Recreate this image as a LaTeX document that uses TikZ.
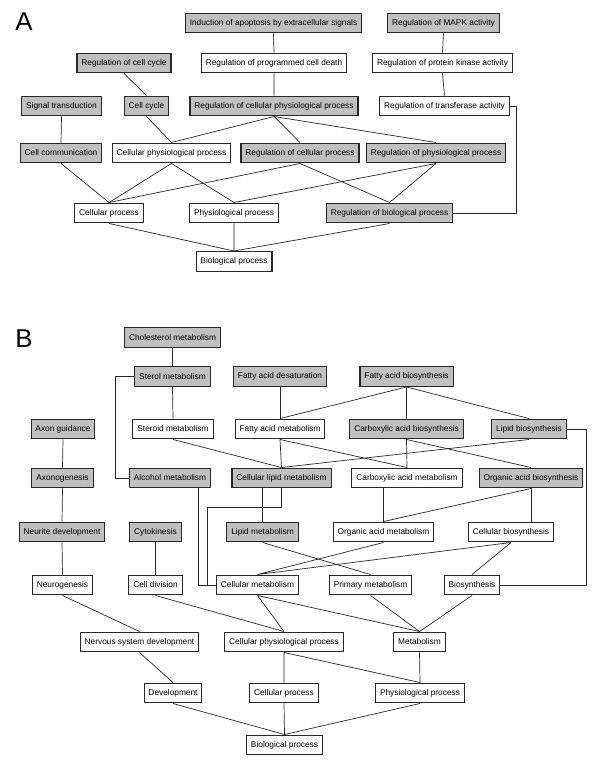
\documentclass[tikz,border=0pt]{standalone}
\usepackage{fontspec}
\setmainfont{Liberation Sans}
\usepackage{xcolor}
\definecolor{gray3}{RGB}{192,192,192}
\definecolor{line3}{RGB}{40,40,40}
\usepackage{tikz}
\usetikzlibrary{calc}

\begin{document}
\begin{tikzpicture}[x=0.03cm, y=-0.03cm,
    term/.style={draw=line3, line width=0.9pt, fill=white,
        minimum height=17pt, inner xsep=3.8pt, inner ysep=0pt,
        font=\fontsize{7.1}{8}\selectfont},
    hit/.style={term, fill=gray3},
    link/.style={line3, line width=0.6pt},
    panel/.style={font=\fontsize{22}{24}\selectfont}]

\useasboundingbox (0,0) rectangle (600,763);

% Panel labels
\node[panel] (labA) at (24,22) {A};
\node[panel] (labB) at (24,339) {B};

% ---------- Panel A: terms ----------
\node[hit]  (apopt)  at (273.5,23)  {Induction of apoptosis by extracellular signals};
\node[hit]  (mapk)   at (443.5,23)  {Regulation of MAPK activity};
\node[hit]  (regcyc) at (124,63)    {Regulation of cell cycle};
\node[term] (regpcd) at (274,63)    {Regulation of programmed cell death};
\node[term] (regpk)  at (442.5,63)  {Regulation of protein kinase activity};
\node[hit]  (sigtr)  at (61.5,106)  {Signal transduction};
\node[hit]  (cyc)    at (146.5,106) {Cell cycle};
\node[hit]  (regcpp) at (274,106)   {Regulation of cellular physiological process};
\node[term] (regtr)  at (444.5,106) {Regulation of transferase activity};
\node[hit]  (comm)   at (61,153)    {Cell communication};
\node[term] (cpp)    at (171.5,153) {Cellular physiological process};
\node[hit]  (regcp)  at (300,153)   {Regulation of cellular process};
\node[hit]  (regpp)  at (436,153)   {Regulation of physiological process};
\node[term] (cp)     at (109,213)   {Cellular process};
\node[term] (pp)     at (234,213)   {Physiological process};
\node[hit]  (regbp)  at (389.5,213) {Regulation of biological process};
\node[term] (bp)     at (234,261.5) {Biological process};

% Panel A: is-a links
\draw[link] (apopt.south) -- (regpcd.north) (regpcd.south) -- (regcpp.north);
\draw[link] (mapk.south) -- (regpk.north) (regpk.south) -- (regtr.north);
\draw[link] (regtr.east) -- ++(7,0) |- (regbp.east);
\draw[link] (regcyc.south) -- (cyc.north);
\draw[link] (sigtr.south) -- (comm.north);
\draw[link] (cyc.south) -- (cpp.north);
\draw[link] (regcpp.south) -- (cpp.north) (regcpp.south) -- (regcp.north)
    (regcpp.south) -- (regpp.north);
\draw[link] (comm.south) -- (cp.north);
\draw[link] (cpp.south) -- (cp.north) (cpp.south) -- (pp.north);
\draw[link] (regcp.south) -- (cp.north) (regcp.south) -- (regbp.north);
\draw[link] (regpp.south) -- (pp.north) (regpp.south) -- (regbp.north);
\draw[link] (cp.south) -- (bp.north) (pp.south) -- (bp.north) (regbp.south) -- (bp.north);

% ---------- Panel B: terms ----------
\node[hit]  (chol)    at (172.5,337.5) {Cholesterol metabolism};
\node[hit]  (sterol)  at (172.5,376.5) {Sterol metabolism};
\node[hit]  (fades)   at (280,376.5)   {Fatty acid desaturation};
\node[hit]  (fabio)   at (406.5,376.5) {Fatty acid biosynthesis};
\node[hit]  (axgd)    at (63,429)      {Axon guidance};
\node[term] (steroid) at (173,429)     {Steroid metabolism};
\node[term] (famet)   at (280,429)     {Fatty acid metabolism};
\node[hit]  (cabio)   at (406.5,429)   {Carboxylic acid biosynthesis};
\node[hit]  (lipbio)  at (529,429)     {Lipid biosynthesis};
\node[hit]  (axgen)   at (62.5,478)    {Axonogenesis};
\node[hit]  (alcmet)  at (170,478)     {Alcohol metabolism};
\node[hit]  (cellip)  at (281.5,478)   {Cellular lipid metabolism};
\node[term] (camet)   at (407,478)     {Carboxylic acid metabolism};
\node[hit]  (orgbio)  at (531,478)     {Organic acid biosynthesis};
\node[hit]  (neurdev) at (62,532)      {Neurite development};
\node[hit]  (cytok)   at (155.5,532)   {Cytokinesis};
\node[hit]  (lipmet)  at (262.5,532)   {Lipid metabolism};
\node[term] (orgmet)  at (383.5,532)   {Organic acid metabolism};
\node[term] (cellbio) at (511,532)     {Cellular biosynthesis};
\node[term] (neurgen) at (62.5,585)    {Neurogenesis};
\node[term] (celldiv) at (155.5,585)   {Cell division};
\node[term] (cellmet) at (257.5,585)   {Cellular metabolism};
\node[term] (primet)  at (370.5,585)   {Primary metabolism};
\node[term] (biosyn)  at (472,585)     {Biosynthesis};
\node[term] (nsdev)   at (139.5,642)   {Nervous system development};
\node[term] (cppB)    at (284,642)     {Cellular physiological process};
\node[term] (metab)   at (419.5,642)   {Metabolism};
\node[term] (dev)     at (173,693)     {Development};
\node[term] (cpB)     at (284,693)     {Cellular process};
\node[term] (ppB)     at (420,693)     {Physiological process};
\node[term] (bpB)     at (284.5,745)   {Biological process};

% Panel B: is-a links
\draw[link] (chol.south) -- (sterol.north) (sterol.south) -- (steroid.north);
\draw[link] (sterol.west) -- ++(-19,0) |- (alcmet.west);
\draw[link] (fades.south) -- (famet.north);
\draw[link] (fabio.south) -- (famet.north) (fabio.south) -- (cabio.north)
    (fabio.south) -- (lipbio.north);
\draw[link] (axgd.south) -- (axgen.north) (axgen.south) -- (neurdev.north)
    (neurdev.south) -- (neurgen.north);
\draw[link] (steroid.south) -- (cellip.north);
\draw[link] (famet.south) -- (cellip.north) (famet.south) -- (camet.north);
\draw[link] (cabio.south) -- (camet.north) (cabio.south) -- (orgbio.north);
\draw[link] (lipbio.south) -- (cellip.north);
\draw[link] (lipbio.east) -- ++(20,0) |- (biosyn.east);

% elbows into cellular metabolism
\draw[link] ($(alcmet.south)+(28,0)$) |- (cellmet.west);
\draw[link] (cellip.south) -- ++(0,19) -| ($(cellmet.west)+(-9,0)$) -- (cellmet.west);

\draw[link] (lipmet.north |- cellip.south) -- (lipmet.north);
\draw[link] (orgmet.north |- camet.south) -- (orgmet.north);
\draw[link] (orgbio.south) -- (orgbio.south |- cellbio.north);
\draw[link] (orgbio.south) -- (orgmet.north);
\draw[link] (cytok.south) -- (celldiv.north);
\draw[link] (lipmet.south) -- (primet.north);
\draw[link] (orgmet.south) -- (cellmet.north) (cellbio.south) -- (cellmet.north)
    (cellbio.south) -- (biosyn.north);
\draw[link] (neurgen.south) -- (nsdev.north);
\draw[link] (celldiv.south) -- (cppB.north);
\draw[link] (cellmet.south) -- (cppB.north) (cellmet.south) -- (metab.north);
\draw[link] (primet.south) -- (metab.north) (biosyn.south) -- (metab.north);
\draw[link] (nsdev.south) -- (dev.north);
\draw[link] (cppB.south) -- (cpB.north) (cppB.south) -- (ppB.north);
\draw[link] (metab.south) -- (ppB.north);
\draw[link] (dev.south) -- (bpB.north) (cpB.south) -- (bpB.north) (ppB.south) -- (bpB.north);

\end{tikzpicture}
\end{document}
